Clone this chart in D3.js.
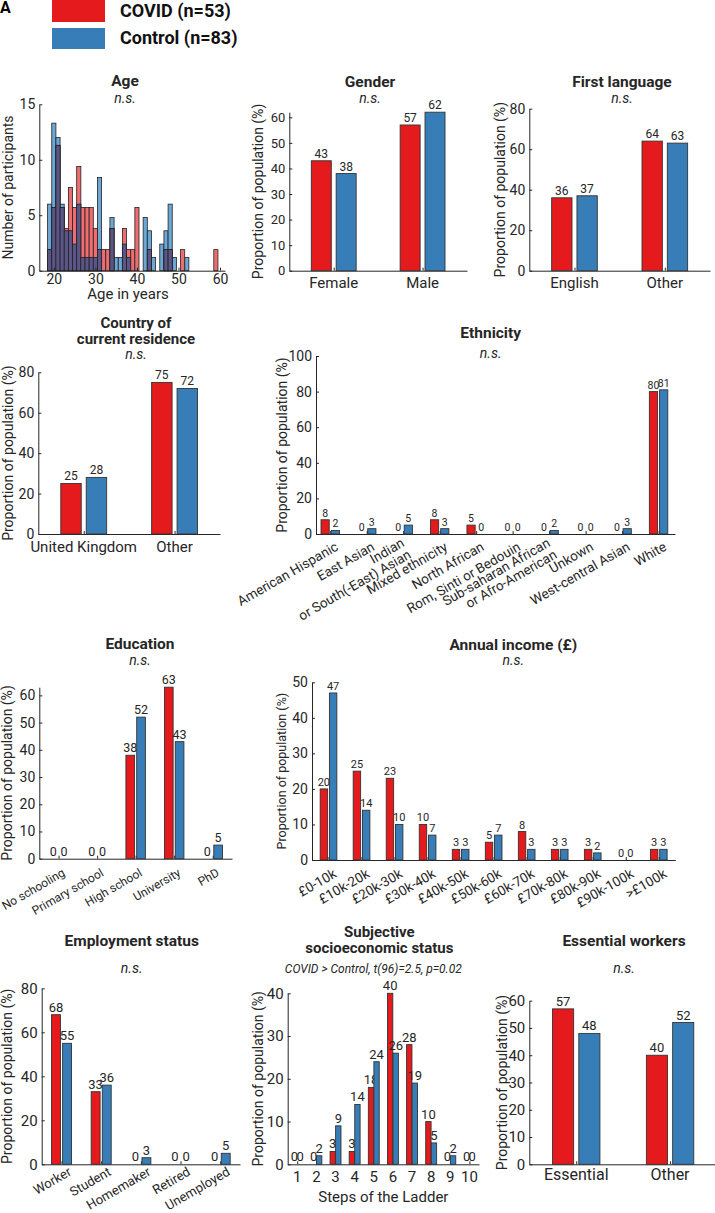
<!DOCTYPE html>
<html>
<head>
<meta charset="utf-8">
<script src="https://cdn.jsdelivr.net/npm/d3@7"></script>
<style>
  body { margin: 0; background: #fff; }
  svg { font-family: Roboto, "DejaVu Sans", sans-serif; }
</style>
</head>
<body>
<script>
// DATA
const groupNames = ["COVID (n=53)", "Control (n=83)"];

const ages = [19, 20, 21, 22, 23, 24, 25, 26, 27, 28, 29, 30, 31, 32, 33, 34, 35, 36, 37, 38, 39,
  40, 41, 42, 43, 44, 45, 46, 47, 48, 49, 50, 51, 52, 53, 54, 55, 56, 57, 58, 59];
const ageCovid = [1.9, 5.7, 11.3, 5.7, 3.8, 7.5, 5.7, 9.4, 5.7, 5.7, 5.7, 3.8, 1.9, 1.9, 1.9, 3.8, 0, 0, 3.8, 1.9, 1.9,
  5.7, 0, 0, 1.9, 0, 0, 0, 1.9, 1.9, 0, 0, 1.9, 0, 0, 0, 0, 0, 0, 0, 1.9];
const ageControl = [6.0, 13.3, 12.0, 6.0, 3.6, 3.6, 2.4, 6.0, 1.2, 1.2, 1.2, 1.2, 8.4, 0, 0, 4.8, 1.2, 1.2, 2.4, 1.2, 0,
  0, 0, 4.8, 3.6, 1.2, 0, 2.4, 3.6, 6.0, 1.2, 0, 0, 1.2, 0, 0, 0, 0, 0, 0, 0];
const ageTicks = [20, 30, 40, 50, 60];

const genderCats = ["Female", "Male"];
const genderCovid = [43, 57];
const genderControl = [38, 62];

const languageCats = ["English", "Other"];
const languageCovid = [36, 64];
const languageControl = [37, 63];

const countryCats = ["United Kingdom", "Other"];
const countryCovid = [25, 75];
const countryControl = [28, 72];

const ethnicityCats = ["American Hispanic", "East Asian", "Indian\nor South(-East) Asian", "Mixed ethnicity",
  "North African", "Rom, Sinti or Bedouin", "Sub-saharan African\nor Afro-American", "Unkown",
  "West-central Asian", "White"];
const ethnicityCovid = [8, 0, 0, 8, 5, 0, 0, 0, 0, 80];
const ethnicityControl = [2, 3, 5, 3, 0, 0, 2, 0, 3, 81];

const educationCats = ["No schooling", "Primary school", "High school", "University", "PhD"];
const educationCovid = [0, 0, 38, 63, 0];
const educationControl = [0, 0, 52, 43, 5];

const incomeCats = ["£0-10k", "£10k-20k", "£20k-30k", "£30k-40k", "£40k-50k", "£50k-60k",
  "£60k-70k", "£70k-80k", "£80k-90k", "£90k-100k", ">£100k"];
const incomeCovid = [20, 25, 23, 10, 3, 5, 8, 3, 3, 0, 3];
const incomeControl = [47, 14, 10, 7, 3, 7, 3, 3, 2, 0, 3];

const employmentCats = ["Worker", "Student", "Homemaker", "Retired", "Unemployed"];
const employmentCovid = [68, 33, 0, 0, 0];
const employmentControl = [55, 36, 3, 0, 5];

const sesCats = ["1", "2", "3", "4", "5", "6", "7", "8", "9", "10"];
const sesCovid = [0, 0, 3, 3, 18, 40, 28, 10, 0, 0];
const sesControl = [0, 2, 9, 14, 24, 26, 19, 5, 2, 0];

const essentialCats = ["Essential", "Other"];
const essentialCovid = [57, 40];
const essentialControl = [48, 52];

// STYLE
const RED = "#e41a1c";
const BLUE = "#377eb8";
const INK = "#262626";
const EDGE = "#333";
const YLAB = "Proportion of population (%)";

const svg = d3.select("body").append("svg").attr("width", 715).attr("height", 1213);

// HELPERS
const addText = (x, y, str, size, opts = {}) =>
  svg.append("text")
    .attr("x", x).attr("y", y)
    .attr("text-anchor", opts.anchor || "middle")
    .attr("font-size", size)
    .attr("font-weight", opts.bold ? "bold" : null)
    .attr("font-style", opts.italic ? "italic" : null)
    .attr("fill", opts.fill || INK)
    .text(str);

const drawYAxis = (y, x0, ticks, fs) => {
  const g = svg.append("g")
    .attr("transform", `translate(${x0},0)`)
    .call(d3.axisLeft(y).tickValues(ticks).tickSize(-3).tickSizeOuter(0).tickPadding(4));
  g.attr("font-family", null).attr("font-size", fs);
  g.selectAll("path, line").attr("stroke", INK);
  g.selectAll("text").attr("fill", INK);
  return g;
};

const drawYLabel = (x, y, str, fs) => {
  const [b, t] = y.range();
  svg.append("text")
    .attr("transform", `translate(${x},${(b + t) / 2}) rotate(-90)`)
    .attr("text-anchor", "middle")
    .attr("dominant-baseline", "central")
    .attr("font-size", fs)
    .attr("fill", INK)
    .text(str);
};

const drawTitle = (p) => {
  const fs = p.titles.length > 1 ? 15 : 15.5;
  p.titles.forEach((t, i) => addText(p.tx, p.ty[i], t, fs, { bold: true }));
  addText(p.sx || p.tx, p.sy, p.sub, p.subFs || 14, { italic: true });
};

// AGE HISTOGRAM
{
  const x = d3.scaleLinear().domain([16.5, 61.2]).range([39.3, 225]);
  const y = d3.scaleLinear().domain([0, 15]).range([270.7, 104.3]);
  const rows = ages.map((a, i) => ({ a, c: ageCovid[i], k: ageControl[i] }));
  const g = svg.append("g");
  const bar = (val, fill) =>
    g.append("g").selectAll("rect")
      .data(rows.filter((d) => val(d) > 0))
      .join("rect")
      .attr("x", (d) => x(d.a - 0.5))
      .attr("width", (d) => x(d.a + 0.5) - x(d.a - 0.5))
      .attr("y", (d) => y(val(d)))
      .attr("height", (d) => y(0) - y(val(d)))
      .attr("fill", fill)
      .attr("stroke", "#222")
      .attr("stroke-width", 0.8);
  bar((d) => d.k, "#6ca8d6");
  bar((d) => d.c, "#ef6d70");
  bar((d) => Math.min(d.c, d.k), "#5c5688");

  drawYAxis(y, 39.3, [0, 5, 10, 15], 14);
  const xa = svg.append("g")
    .attr("transform", `translate(0,270.7)`)
    .call(d3.axisBottom(x).tickValues(ageTicks).tickSize(-3).tickSizeOuter(0).tickPadding(3));
  xa.attr("font-family", null).attr("font-size", 14);
  xa.selectAll("path, line").attr("stroke", INK);
  xa.selectAll("text").attr("fill", INK);
  drawYLabel(7.5, y, "Number of participants", 14);
  addText(128, 298.5, "Age in years", 15);
  addText(125, 86, "Age", 15.5, { bold: true });
  addText(125, 103, "n.s.", 14, { italic: true });
}

// GROUPED BAR PANELS
const panels = [
  { cats: genderCats, covid: genderCovid, control: genderControl,
    xr: [289.3, 467], dom: [0.5, 2.5], base: 270.7, top: 112.2, yMax: 62, ticks: [0, 10, 20, 30, 40, 50, 60],
    valFs: 12, tickFs: 13, catFs: 15, catY: 288, ylabX: 258,
    titles: ["Gender"], tx: 370, ty: [86.5], sub: "n.s.", sy: 102.7 },
  { cats: languageCats, covid: languageCovid, control: languageControl,
    xr: [529.3, 710], dom: [0.5, 2.5], base: 270.7, top: 108.7, yMax: 80, ticks: [0, 20, 40, 60, 80],
    valFs: 12, tickFs: 14, catFs: 15, catY: 288, ylabX: 500,
    titles: ["First language"], tx: 622, ty: [86.7], sub: "n.s.", sy: 103 },
  { cats: countryCats, covid: countryCovid, control: countryControl,
    xr: [38.3, 220], dom: [0.5, 2.5], base: 534, top: 372.3, yMax: 80, ticks: [0, 20, 40, 60, 80],
    valFs: 12, tickFs: 14, catFs: 15, catY: 551.7, ylabX: 7.5,
    titles: ["Country of", "current residence"], tx: 136, ty: [327.5, 343.5], sub: "n.s.", sy: 358.5 },
  { cats: ethnicityCats, covid: ethnicityCovid, control: ethnicityControl,
    xr: [316, 675], dom: [0.61, 10.45], base: 534, top: 356, yMax: 100, ticks: [0, 20, 40, 60, 80, 100],
    valFs: 10.5, tickFs: 14, catFs: 13.5, rotate: true, rdx: 4, rdy: 7, ylabX: 281.7,
    titles: ["Ethnicity"], tx: 490.7, ty: [338.3], sub: "n.s.", sy: 358.3 },
  { cats: educationCats, covid: educationCovid, control: educationControl,
    xr: [39.3, 232], dom: [0.5, 5.5], base: 858.7, top: 687.2, yMax: 63, ticks: [0, 10, 20, 30, 40, 50, 60],
    valFs: 12.5, tickFs: 14, catFs: 12, rotate: true, rdx: 3, rdy: 9, ylabX: 6.7,
    titles: ["Education"], tx: 140, ty: [649.3], sub: "n.s.", sy: 665 },
  { cats: incomeCats, covid: incomeCovid, control: incomeControl,
    xr: [312, 675.3], dom: [0.5, 11.5], base: 860, top: 682.3, yMax: 50, ticks: [0, 10, 20, 30, 40, 50],
    valFs: 11, tickFs: 14, catFs: 13.5, rotate: true, rdx: 4, rdy: 8, ylabX: 281.7, ylabFs: 12.5,
    titles: ["Annual income (£)"], tx: 513.3, ty: [650], sub: "n.s.", sy: 665 },
  { cats: employmentCats, covid: employmentCovid, control: employmentControl,
    xr: [41.7, 240], dom: [0.5, 5.5], base: 1164.3, top: 988.3, yMax: 80, ticks: [0, 20, 40, 60, 80],
    valFs: 13, tickFs: 15, catFs: 13, rotate: true, rdx: 6, rdy: 2, ylabX: 7.3,
    titles: ["Employment status"], tx: 131.7, ty: [946], sub: "n.s.", sy: 972.7 },
  { cats: sesCats, covid: sesCovid, control: sesControl, bw: 0.28, off: 0.145,
    xr: [287.7, 479], dom: [0.5, 10.5], base: 1164.3, top: 993.3, yMax: 40, ticks: [0, 10, 20, 30, 40],
    valFs: 13, tickFs: 15, catFs: 15, catY: 1181.7, ylabX: 258.3,
    xlab: "Steps of the Ladder", xlabY: 1201.7,
    titles: ["Subjective", "socioeconomic status"], tx: 379.3, ty: [937, 953],
    sub: "COVID > Control, t(96)=2.5, p=0.02", sx: 373.3, sy: 972.7, subFs: 12 },
  { cats: essentialCats, covid: essentialCovid, control: essentialControl,
    xr: [529.3, 717], dom: [0.5, 2.5], base: 1164.3, top: 1000.7, yMax: 60, ticks: [0, 10, 20, 30, 40, 50, 60],
    valFs: 13, tickFs: 15, catFs: 16, catY: 1180, ylabX: 501.7,
    titles: ["Essential workers"], tx: 624, ty: [945.7], sub: "n.s.", sy: 972.7 },
];

panels.forEach((p) => {
  const bw = p.bw || 0.225;
  const off = p.off || 0.14;
  const x = d3.scaleLinear().domain(p.dom).range(p.xr);
  const y = d3.scaleLinear().domain([0, p.yMax]).range([p.base, p.top]);
  const rows = p.cats.map((c, i) => ({ pos: i + 1, c, covid: p.covid[i], control: p.control[i] }));
  const series = [
    { key: "covid", color: RED, shift: -off },
    { key: "control", color: BLUE, shift: off },
  ];

  // x axis line with small inward ticks
  const xa = svg.append("g")
    .attr("transform", `translate(0,${p.base})`)
    .call(d3.axisBottom(x).tickValues(rows.map((d) => d.pos)).tickSize(-3).tickSizeOuter(0).tickFormat(""));
  xa.selectAll("path, line").attr("stroke", INK);

  series.forEach((s) => {
    const g = svg.append("g");
    g.selectAll("rect")
      .data(rows)
      .join("rect")
      .attr("x", (d) => x(d.pos + s.shift - bw / 2))
      .attr("width", (d) => x(d.pos + s.shift + bw / 2) - x(d.pos + s.shift - bw / 2))
      .attr("y", (d) => y(d[s.key]))
      .attr("height", (d) => y(0) - y(d[s.key]))
      .attr("fill", s.color)
      .attr("stroke", EDGE)
      .attr("stroke-width", 0.9);
    g.selectAll("text")
      .data(rows)
      .join("text")
      .attr("x", (d) => x(d.pos + s.shift))
      .attr("y", (d) => y(d[s.key]) - 3)
      .attr("text-anchor", "middle")
      .attr("font-size", p.valFs)
      .attr("fill", INK)
      .text((d) => d[s.key]);
  });

  drawYAxis(y, p.xr[0], p.ticks, p.tickFs);
  drawYLabel(p.ylabX, y, YLAB, p.ylabFs || 14);

  if (p.rotate) {
    rows.forEach((d) => {
      const lines = d.c.split("\n");
      const t = svg.append("text")
        .attr("transform", `translate(${x(d.pos) + p.rdx},${p.base + p.rdy}) rotate(-30)`)
        .attr("text-anchor", "end")
        .attr("font-size", p.catFs)
        .attr("fill", INK);
      lines.forEach((ln, j) => {
        t.append("tspan")
          .attr("x", lines.length > 1 ? -4 : 0)
          .attr("y", 0)
          .attr("dy", `${0.72 + (j - (lines.length - 1) / 2) * 1.0}em`)
          .text(ln);
      });
    });
  } else {
    rows.forEach((d) => addText(x(d.pos), p.catY, d.c, p.catFs));
  }
  if (p.xlab) addText(x((p.dom[0] + p.dom[1]) / 2), p.xlabY, p.xlab, 15);
  drawTitle(p);
});

// LEGEND
svg.append("text").attr("x", 0).attr("y", 13).attr("font-size", 16).attr("font-weight", "bold").text("A");
const legend = svg.append("g");
legend.selectAll("rect")
  .data(groupNames)
  .join("rect")
  .attr("x", 52)
  .attr("y", (_, i) => (i === 0 ? -6 : 28))
  .attr("width", 53)
  .attr("height", (_, i) => (i === 0 ? 28 : 21))
  .attr("fill", (_, i) => (i === 0 ? RED : BLUE));
legend.selectAll("text")
  .data(groupNames)
  .join("text")
  .attr("x", 120)
  .attr("y", (_, i) => (i === 0 ? 17 : 43.5))
  .attr("font-size", 18)
  .attr("font-weight", "bold")
  .attr("fill", "#111")
  .text((d) => d);
</script>
</body>
</html>
